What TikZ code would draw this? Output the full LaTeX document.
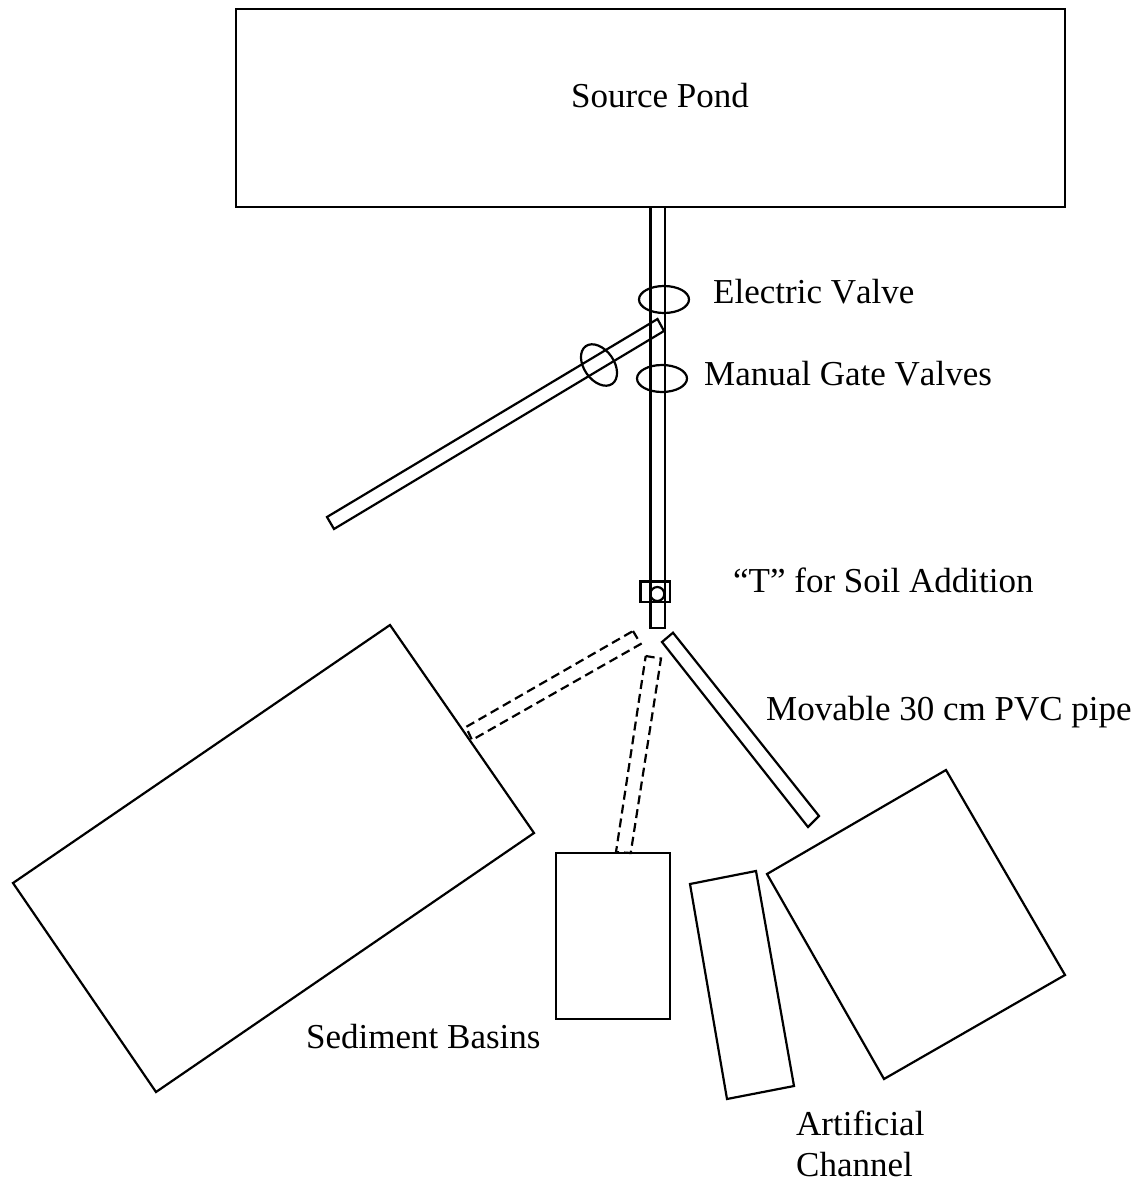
\documentclass[tikz,border=0pt]{standalone}
\usepackage{fontspec}
\setmainfont[Kerning=Off]{Liberation Serif}
\tikzset{
  part/.style={draw=black,line width=2.2pt,line join=miter},
  movable/.style={part,dash pattern=on 9pt off 5pt},
  lab/.style={inner sep=0pt,anchor=base west,text=black,font=\fontsize{35}{35}\selectfont},
}
\begin{document}
\begin{tikzpicture}[x=1pt,y=-1pt]
\useasboundingbox (0,0) rectangle (1141,1184);
% source pond and main pipe
\draw[part] (650.5,207) rectangle (665,628);
\node[part,rectangle,minimum width=829pt,minimum height=198pt,inner sep=0pt,fill=none] (pond) at (650.5,108) {};
\node[lab,anchor=base] (pondlabel) at (660,107.5) {Source Pond};
% valves
\draw[part] (664,299.5) ellipse [x radius=25pt,y radius=13.5pt];
\draw[part] (662,378.5) ellipse [x radius=25pt,y radius=13.5pt];
% diverging pipe
\draw[part] (657.5,319) -- (664,331) -- (334,529) -- (327,517) -- cycle;
\draw[part,shift={(599,365)},rotate=-55] (0,0) ellipse [x radius=23pt,y radius=15pt];
% soil T
\draw[part] (640.5,581.5) rectangle (670,602);
\draw[part] (657.3,594) circle [radius=7pt];
% movable pipe positions
\draw[movable] (633,631) -- (640.7,644) -- (472,740) -- (466,727) -- cycle;
\draw[movable] (645.7,656) -- (661,658.5) -- (630.7,853) -- (616,852) -- cycle;
\draw[part] (662,642) -- (673,632.7) -- (819,816) -- (808,827) -- cycle;
% basins and channel
\draw[part] (390,625) -- (534,833) -- (156,1092) -- (13,883) -- cycle;
\draw[part] (556,853) rectangle (670,1019);
\draw[part] (690,884) -- (756,871) -- (794,1086) -- (727,1099) -- cycle;
\draw[part] (946,770) -- (1065,975) -- (884,1079) -- (767,874) -- cycle;
% labels
\node[lab] (electric) at (713,303.5) {Electric Valve};
\node[lab] (manual) at (704,385.5) {Manual Gate Valves};
\node[lab] (tee) at (733,592.5) {“T” for Soil Addition};
\node[lab] (movablelabel) at (766,720.5) {Movable 30 cm PVC pipe};
\node[lab] (sediment) at (306,1048.5) {Sediment Basins};
\node[lab] (artificial) at (796,1135.5) {Artificial};
\node[lab] (channel) at (796,1176.5) {Channel};
\end{tikzpicture}
\end{document}
